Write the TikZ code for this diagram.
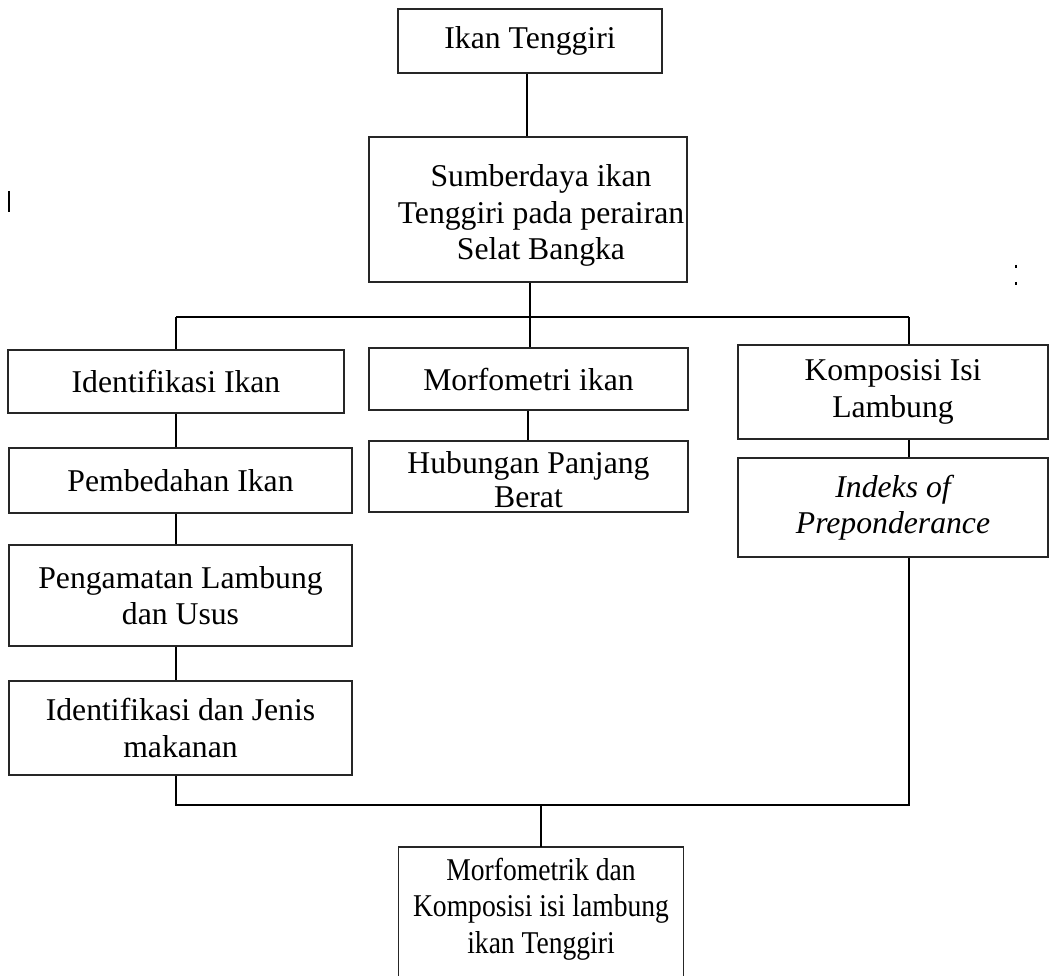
\documentclass[tikz,border=0pt]{standalone}
\usepackage{graphicx}
\usepackage{fontspec}
\setmainfont{Liberation Serif}
\begin{document}
\begin{tikzpicture}[x=1pt,y=-1pt,
  txt/.style={align=center, inner sep=0pt, font=\fontsize{31.7}{36.5}\selectfont},
  box/.style={txt, draw=black!85, line width=1.2pt},
  conn/.style={draw=black, line width=2pt}]
\useasboundingbox (0,0) rectangle (1060,976);
% boxes
\node[box, minimum width=264pt, minimum height=64pt] (A) at (530,41) {Ikan Tenggiri};
\node[box, minimum width=318pt, minimum height=145pt] (B) at (528,209.5) {};
\node[txt] (Bt) at ([xshift=13pt,yshift=-6pt]B.center) {Sumberdaya ikan\\Tenggiri pada perairan\\Selat Bangka};
\node[box, minimum width=336pt, minimum height=63pt] (C) at (176,381.5) {Identifikasi Ikan};
\node[box, minimum width=343pt, minimum height=65pt] (D) at (180.5,480.5) {Pembedahan Ikan};
\node[box, minimum width=343pt, minimum height=101pt] (E) at (180.5,595.5) {Pengamatan Lambung\\dan Usus};
\node[box, minimum width=343pt, minimum height=94pt] (F) at (180.5,728) {Identifikasi dan Jenis\\makanan};
\node[box, minimum width=319pt, minimum height=62pt] (G) at (528.5,379) {Morfometri ikan};
\node[box, minimum width=319pt, minimum height=71pt] (H) at (528.5,476.5) {};
\node[txt, font=\fontsize{31.7}{34}\selectfont] (Ht) at ([yshift=-3pt]H.center) {Hubungan Panjang\\Berat};
\node[box, minimum width=310pt, minimum height=94pt] (I) at (893,392) {Komposisi Isi\\Lambung};
\node[box, minimum width=310pt, minimum height=99pt] (J) at (893,507.5) {\itshape Indeks of\\\itshape Preponderance};
\node[txt, anchor=north, minimum width=284pt, minimum height=124pt] (K) at (541,847)
  {\scalebox{0.87}[1]{Morfometrik dan}\\\scalebox{0.87}[1]{Komposisi isi lambung}\\\scalebox{0.87}[1]{ikan Tenggiri}};
\draw[draw=black!85, line width=1.2pt] ([yshift=-40pt]K.south west) -- (K.north west) -- (K.north east) -- ([yshift=-40pt]K.south east);
% junction points
\coordinate (t1) at (176,317);
\coordinate (t2) at (530,317);
\coordinate (t3) at (909,317);
\coordinate (b1) at (176,805);
\coordinate (b2) at (541,805);
\coordinate (b3) at (909,805);
% connectors
\draw[conn] ([xshift=-3pt]A.south) -- ([xshift=-1pt]B.north);
\draw[conn] ([xshift=2pt]B.south) -- (t2);
\draw[conn] (t1) -- (t3);
\draw[conn] (t1) -- (C.north);
\draw[conn] (t2) -- (G.north -| t2);
\draw[conn] (t3) -- (I.north -| t3);
\draw[conn] (C.south) -- (D.north -| C.south);
\draw[conn] ([xshift=-4.5pt]D.south) -- ([xshift=-4.5pt]E.north);
\draw[conn] ([xshift=-4.5pt]E.south) -- ([xshift=-4.5pt]F.north);
\draw[conn] ([xshift=-0.5pt]G.south) -- ([xshift=-0.5pt]H.north);
\draw[conn] ([xshift=16pt]I.south) -- ([xshift=16pt]J.north);
\draw[conn] (F.south -| b1) -- (b1) -- (b3) -- (J.south -| b3);
\draw[conn] (b2) -- (K.north);
% stray marks
\draw[line width=2pt] (9,191) -- (9,212);
\draw[line width=1.5pt] (1016,265) -- (1016,268);
\draw[line width=1.5pt] (1016,282) -- (1016,285);
\end{tikzpicture}
\end{document}
